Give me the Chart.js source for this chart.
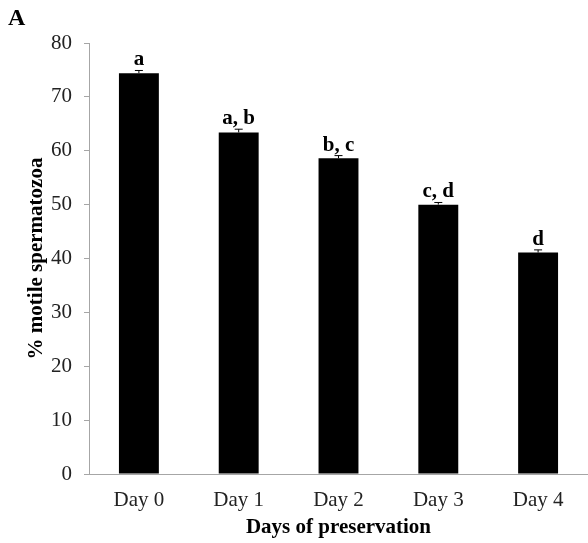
<!DOCTYPE html>
<html>
<head>
<meta charset="utf-8">
<script src="https://cdn.jsdelivr.net/npm/chart.js@4"></script>
<style>
  body { margin: 0; background: #fff; }
</style>
</head>
<body>
<canvas id="chart" width="588" height="543"></canvas>
<script>
// Data
const days = ['Day 0', 'Day 1', 'Day 2', 'Day 3', 'Day 4']
const motile = [74.4, 63.4, 58.6, 50.0, 41.1]
const sem = [0.5, 0.6, 0.5, 0.4, 0.5]
const letters = ['a', 'a, b', 'b, c', 'c, d', 'd']
const yTicks = [0, 10, 20, 30, 40, 50, 60, 70, 80]

const serif = '"Liberation Serif", "Times New Roman", serif'

// error bars + significance letters + panel label
const extras = {
  id: 'extras',
  afterDatasetsDraw(chart) {
    const { ctx, scales } = chart
    const x = scales.x
    const y = scales.y
    ctx.save()
    ctx.strokeStyle = '#000'
    ctx.lineWidth = 1
    motile.forEach((v, i) => {
      const cx = x.getPixelForValue(i)
      const top = y.getPixelForValue(v + sem[i])
      const base = y.getPixelForValue(v)
      ctx.beginPath()
      ctx.moveTo(cx, base)
      ctx.lineTo(cx, top)
      ctx.moveTo(cx - 4, top)
      ctx.lineTo(cx + 4, top)
      ctx.stroke()

      ctx.fillStyle = '#000'
      ctx.font = 'bold 21px ' + serif
      ctx.textAlign = 'center'
      ctx.textBaseline = 'alphabetic'
      ctx.fillText(letters[i], cx, top - 5)
    })
    ctx.font = 'bold 24px ' + serif
    ctx.textAlign = 'left'
    ctx.textBaseline = 'top'
    ctx.fillText('A', 8, 7)
    ctx.restore()
  },
}

new Chart(document.getElementById('chart'), {
  type: 'bar',
  data: {
    labels: days,
    datasets: [
      {
        data: motile,
        backgroundColor: '#000',
        borderWidth: 0,
        categoryPercentage: 1,
        barPercentage: 0.4,
      },
    ],
  },
  options: {
    responsive: false,
    animation: false,
    layout: { padding: { top: 43, left: 24, right: 0, bottom: 3 } },
    plugins: {
      legend: { display: false },
      tooltip: { enabled: false },
    },
    scales: {
      x: {
        grid: { display: false },
        border: { color: '#a6a6a6', width: 1 },
        ticks: { color: '#222', font: { family: serif, size: 21 }, padding: 6 },
        title: {
          display: true,
          text: 'Days of preservation',
          color: '#000',
          font: { family: serif, size: 21, weight: 'bold' },
          padding: { top: 0, bottom: 0 },
        },
        afterFit(scale) {
          scale.height = 66
        },
      },
      y: {
        min: 0,
        max: 80,
        afterBuildTicks(scale) {
          scale.ticks = yTicks.map((v) => ({ value: v }))
        },
        grid: { drawOnChartArea: false, color: '#a6a6a6', tickLength: 5 },
        border: { color: '#a6a6a6', width: 1 },
        ticks: { color: '#222', font: { family: serif, size: 21 }, padding: 12 },
        title: {
          display: true,
          text: '% motile spermatozoa',
          color: '#000',
          font: { family: serif, size: 21, weight: 'bold' },
          padding: { top: 0, bottom: 4 },
        },
        afterFit(scale) {
          scale.width = 65
        },
      },
    },
  },
  plugins: [extras],
})
</script>
</body>
</html>
